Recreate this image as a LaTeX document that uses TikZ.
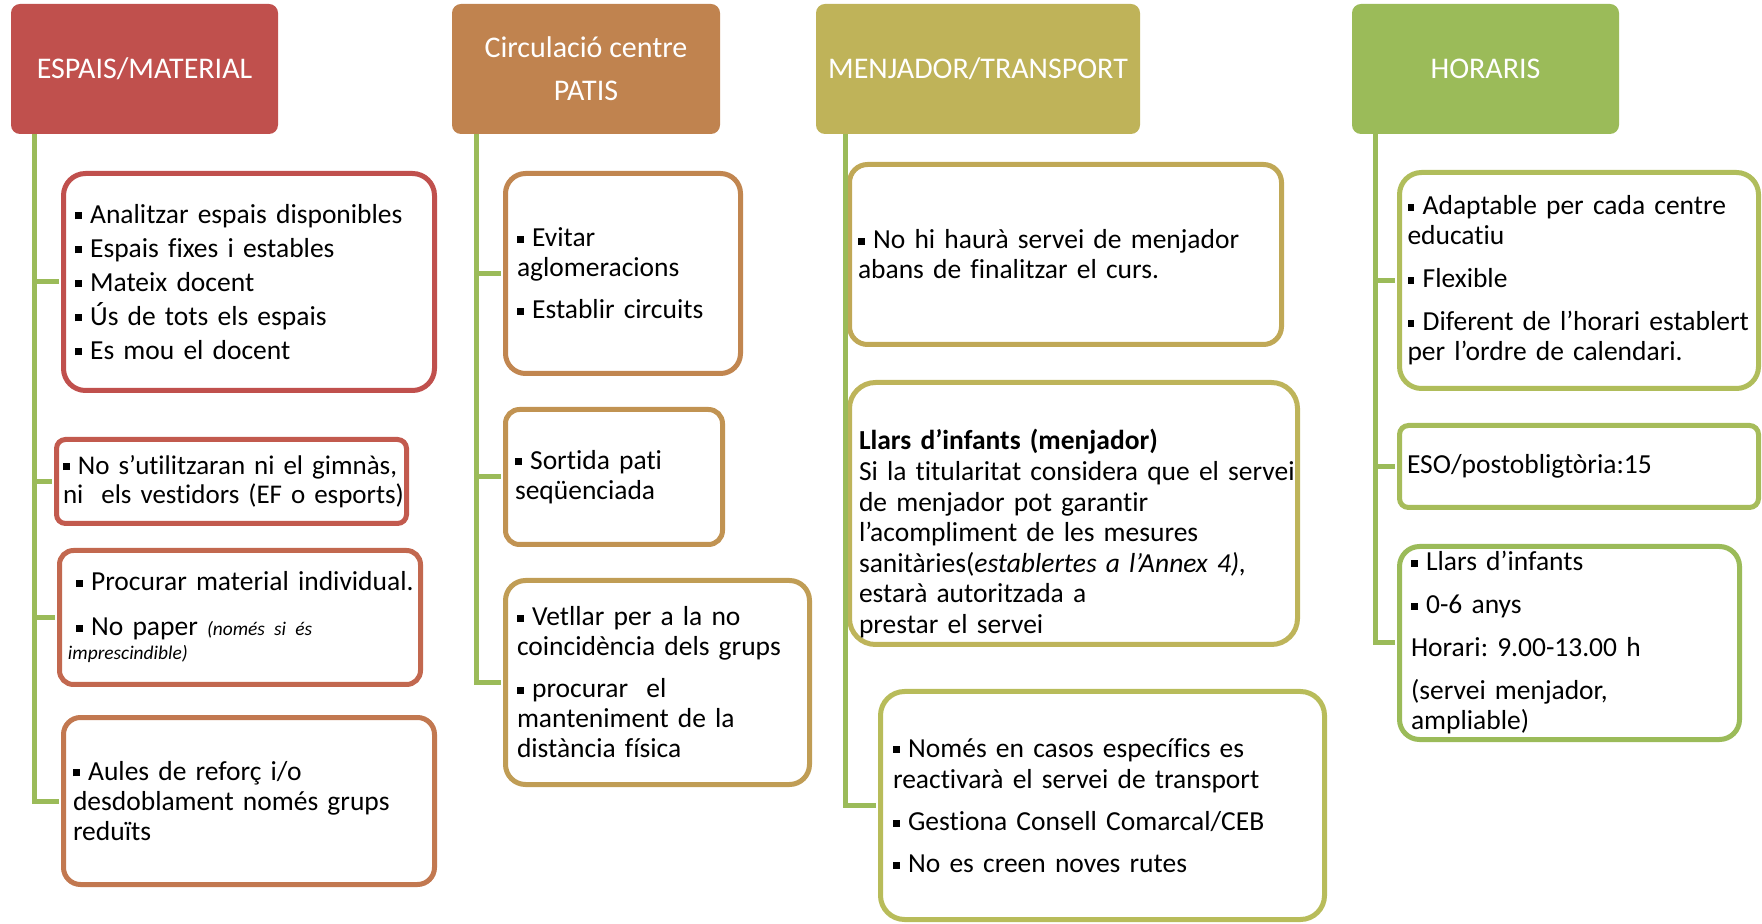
\documentclass[tikz,border=0pt]{standalone}
\usepackage{fontspec}
\setmainfont{Carlito}[Ligatures=NoCommon]
\definecolor{hRed}{RGB}{192,80,77}
\definecolor{hOrange}{RGB}{192,131,79}
\definecolor{hOlive}{RGB}{191,179,89}
\definecolor{hGreen}{RGB}{155,187,89}
\definecolor{stemGreen}{RGB}{155,187,89}
\definecolor{bEa}{RGB}{192,80,77}
\definecolor{bEb}{RGB}{194,90,78}
\definecolor{bEc}{RGB}{194,104,79}
\definecolor{bEd}{RGB}{194,120,80}
\definecolor{bPa}{RGB}{193,134,80}
\definecolor{bPb}{RGB}{193,147,82}
\definecolor{bPc}{RGB}{192,157,85}
\definecolor{bMa}{RGB}{192,168,86}
\definecolor{bMb}{RGB}{190,180,90}
\definecolor{bMc}{RGB}{184,188,90}
\definecolor{bOa}{RGB}{176,189,91}
\definecolor{bOb}{RGB}{166,188,90}
\definecolor{bOc}{RGB}{155,187,89}
\newcommand{\sq}{\rule[0.15em]{0.25em}{0.25em}\hspace{0.3em}}
\begin{document}
\begin{tikzpicture}[x=0.5pt, y=-0.5pt,
		head/.style={rounded corners=4.5pt, text=white, minimum height=65pt, inner sep=0pt, align=center, font=\fontsize{15pt}{21.5pt}\selectfont},
		leaf/.style n args={4}{draw=#1, line width=2.5pt, fill=white, minimum width=#2, minimum height=#3, text width=#4, inner sep=0pt, align=left, font=\fontsize{13.75pt}{15pt}\selectfont, execute at begin node={\frenchspacing\rightskip=0pt plus 1fil minus 100pt}},
		stem/.style={draw=stemGreen, line width=2.5pt, shorten >=1.25pt}]
		\useasboundingbox (0,0) rectangle (1762,924);
		
		\node[head, fill=hRed, minimum width=133.5pt] 		(espais) 	at (144.5,69) 	{ESPAIS/MATERIAL};
		\node[head, fill=hOrange, minimum width=134pt] 		(patis) 	at (586,69) 	{Circulació centre\\PATIS};
		\node[head, fill=hOlive, minimum width=162pt] 		(menjador) 	at (978,69) 	{MENJADOR/TRANSPORT};
		\node[head, fill=hGreen, minimum width=133.5pt] 	(horaris) 	at (1485.5,69) 	{HORARIS};
		
		\node[leaf={bEa}{185.5pt}{108.5pt}{174pt}, rounded corners=11pt, font=\fontsize{13.75pt}{17pt}\selectfont] (e1) at (249,282) {\sq Analitzar espais disponibles\\\sq Espais fixes i estables\\\sq Mateix docent\\\sq Ús de tots els espais\\\sq Es mou el docent};
		\node[leaf={bEb}{175pt}{42pt}{168.5pt}, rounded corners=4.5pt, font=\fontsize{13.5pt}{14.7pt}\selectfont] (e2) at (231.5,481.5) {\sq No s’utilitzaran ni el gimnàs,\\ni\ \ els vestidors (EF o esports)};
		\node[leaf={bEc}{180.5pt}{67pt}{172pt}, rounded corners=7pt] (e3) at (240,617.5) {\hspace*{4pt}\sq Procurar material individual.\\[7.5pt]\hspace*{4pt}\sq No paper {\fontsize{9.7pt}{12pt}\selectfont\itshape (només si és}\\[-3pt]{\fontsize{9.7pt}{12pt}\selectfont\itshape imprescindible)}};
		\node[leaf={bEd}{185.5pt}{83.5pt}{176pt}, rounded corners=8.5pt] (e4) at (249,801) {\sq Aules de reforç i/o\\desdoblament només grups\\reduïts};
		
		\node[leaf={bPa}{117.5pt}{100pt}{106pt}, rounded corners=10pt] (p1) at (623,273.5) {\sq Evitar\\aglomeracions\\[6pt]\sq Establir circuits};
		\node[leaf={bPb}{108.5pt}{67.5pt}{99pt}, rounded corners=7pt] (p2) at (614,477) {\sq Sortida pati\\seqüenciada};
		\node[leaf={bPc}{152pt}{102pt}{140.5pt}, rounded corners=10pt] (p3) at (657.5,682.5) {\sq Vetllar per a la no\\coincidència dels grups\\[6pt]\sq procurar\ \ el\\manteniment de la\\distància física};
		
		\node[leaf={bMa}{216pt}{90pt}{207.5pt}, rounded corners=9pt] (m1) at (1065.5,254.5) {\sq No hi haurà servei de menjador\\abans de finalitzar el curs.};
		\node[leaf={bMb}{224pt}{131pt}{214.5pt}, rounded corners=13pt, font=\fontsize{13.75pt}{15.3pt}\selectfont] (m2) at (1073.5,513.5) {\rule{0pt}{30.5pt}\textbf{Llars d’infants (menjador)}\\Si la titularitat considera que el servei\\de menjador pot garantir\\l’acompliment de les mesures\\sanitàries(\textit{establertes a l’Annex 4),}\\estarà autoritzada a\\prestar el servei};
		\node[leaf={bMc}{222pt}{114pt}{209.5pt}, rounded corners=12pt, font=\fontsize{13.75pt}{15.8pt}\selectfont] (m3) at (1102.5,805.5) {\sq Només en casos específics es\\reactivarà el servei de transport\\[5.2pt]\sq Gestiona Consell Comarcal/CEB\\[5.2pt]\sq No es creen noves rutes};
		
		\node[leaf={bOa}{179.5pt}{108pt}{171.5pt}, rounded corners=11pt] (h1) at (1579,280.5) {\sq Adaptable per cada centre\\educatiu\\[6.5pt]\sq Flexible\\[6.5pt]\sq Diferent de l’horari establert\\per l’ordre de calendari.};
		\node[leaf={bOb}{179.5pt}{41pt}{172pt}, rounded corners=4.5pt] (h2) at (1579,466.5) {ESO/postobligtòria:15};
		\node[leaf={bOc}{170pt}{96.5pt}{158.5pt}, rounded corners=10pt] (h3) at (1569.5,643) {\sq Llars d’infants\\[6.5pt]\sq 0-6 anys\\[6.5pt]Horari: 9.00-13.00 h\\[6.5pt](servei menjador,\\ampliable)};
		
		\draw[stem] ([xshift=12pt]espais.south west) |- (e1.west);
		\draw[stem] ([xshift=12pt]espais.south west) |- (e2.west);
		\draw[stem] ([xshift=12pt]espais.south west) |- (e3.west);
		\draw[stem] ([xshift=12pt]espais.south west) |- (e4.west);
		\draw[stem] ([xshift=12.5pt]patis.south west) |- (p1.west);
		\draw[stem] ([xshift=12.5pt]patis.south west) |- (p2.west);
		\draw[stem] ([xshift=12.5pt]patis.south west) |- (p3.west);
		\draw[stem] ([xshift=15pt]menjador.south west) |- (m3.west);
		\draw[stem] ([xshift=12pt]horaris.south west) |- (h1.west);
		\draw[stem] ([xshift=12pt]horaris.south west) |- (h2.west);
		\draw[stem] ([xshift=12pt]horaris.south west) |- (h3.west);
\end{tikzpicture}
\end{document}
